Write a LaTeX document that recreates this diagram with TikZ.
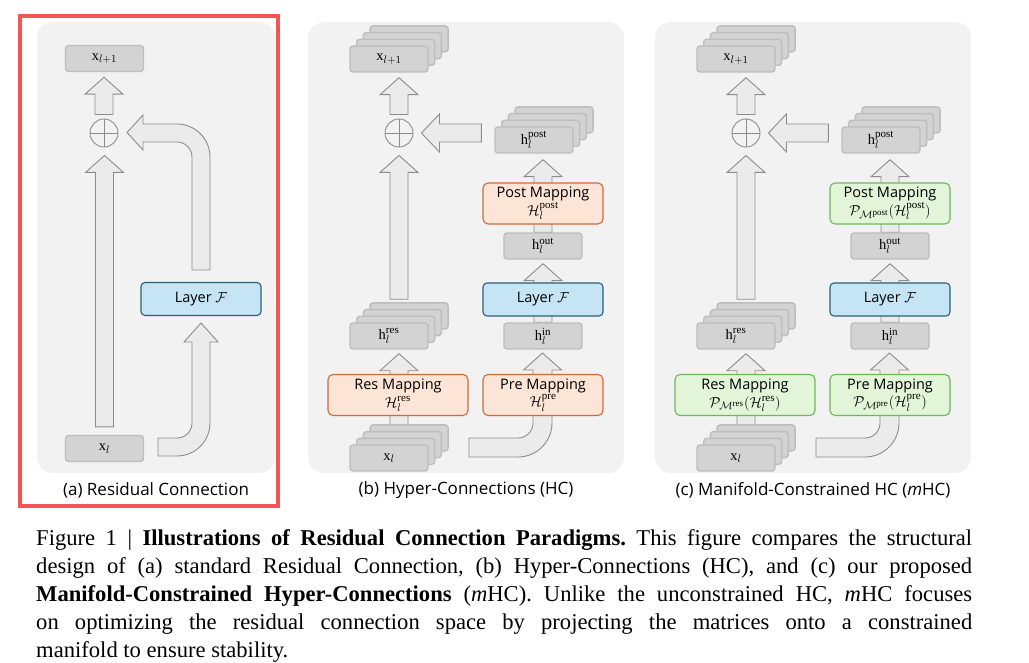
\documentclass[tikz,border=0pt]{standalone}
\usepackage{fontspec}
\setmainfont{Liberation Serif}
\newfontfamily\dsans{Open Sans}
\DeclareMathSizes{14.5}{14.5}{11}{9}
\usetikzlibrary{calc}
\definecolor{panelbg}{HTML}{F2F2F2}
\definecolor{arrfill}{HTML}{EBEBEB}
\definecolor{arrdraw}{HTML}{8C8C8C}
\definecolor{gfill}{HTML}{D3D3D3}
\definecolor{gdraw}{HTML}{BDBDBD}
\definecolor{lfill}{HTML}{C5E5F5}
\definecolor{ldraw}{HTML}{2C5F78}
\definecolor{ofill}{HTML}{FCE4D6}
\definecolor{odraw}{HTML}{D06A3A}
\definecolor{mfill}{HTML}{E2F5D8}
\definecolor{mdraw}{HTML}{6CB85A}
\definecolor{redframe}{HTML}{F55555}
\pgfdeclarelayer{bg}\pgfdeclarelayer{arr}
\pgfsetlayers{bg,arr,main}
\tikzset{
 fat/.style={fill=arrfill,draw=arrdraw,line width=0.9pt,line join=miter},
 gbox/.style={rectangle,rounded corners=3pt,fill=gfill,draw=gdraw,line width=1.4pt,minimum width=78pt,minimum height=26pt,inner sep=0pt,font=\fontsize{14.5}{16}\selectfont},
 lbox/.style={rectangle,rounded corners=4pt,fill=lfill,draw=ldraw,line width=1.1pt,minimum width=120pt,minimum height=33pt,inner sep=0pt,font=\dsans\fontsize{14.5}{16}\selectfont},
 obox/.style={rectangle,rounded corners=5pt,fill=ofill,draw=odraw,line width=1.1pt,minimum height=41pt,inner sep=0pt,align=center,font=\dsans\fontsize{14.5}{17.5}\selectfont},
 mbox/.style={obox,fill=mfill,draw=mdraw},
 plusc/.style={circle,draw=arrdraw,line width=0.9pt,minimum size=28pt,inner sep=0pt},
 panel/.style={fill=panelbg,rounded corners=16pt},
 lab/.style={font=\dsans\fontsize{17}{20}\selectfont}
}
\newcommand\fatv[2]{\path[fat] let \p1=#1, \p2=#2 in (\x1-9pt,\y1) -- (\x1-9pt,\y2-17pt) -- (\x1-19pt,\y2-17pt) -- (\x1,\y2) -- (\x1+19pt,\y2-17pt) -- (\x1+9pt,\y2-17pt) -- (\x1+9pt,\y1) -- cycle;}
\newcommand\fath[2]{\path[fat] let \p1=#1, \p2=#2 in (\x1,\y1-9pt) -- (\x2+18pt,\y1-9pt) -- (\x2+18pt,\y1-19pt) -- (\x2,\y1) -- (\x2+18pt,\y1+19pt) -- (\x2+18pt,\y1+9pt) -- (\x1,\y1+9pt) -- cycle;}
\newcommand\stk[4]{\foreach \i in {3,2,1}{\node[gbox] at ({#2+6.7*\i},{#3-6.7*\i}) {};}\node[gbox] (#1) at (#2,#3) {#4};}
\newcommand\plusnode[2]{\node[plusc] (#1) at #2 {};\draw[arrdraw,line width=0.9pt] (#1.north) -- (#1.south) (#1.west) -- (#1.east);}
\newcommand\hcpanel[5]{%
 \begin{pgfonlayer}{bg}\fill[panel] (308,22) rectangle (624,473);\end{pgfonlayer}
 \stk{#1xo}{389}{59}{$\mathrm{x}_{l+1}$}
 \plusnode{#1p}{(399,133)}
 \stk{#1hp}{534}{140}{$\mathrm{h}_l^{\mathrm{post}}$}
 \node[#2,minimum width=120pt] (#1post) at (543,203.5) {Post Mapping\\#3};
 \node[gbox] (#1hout) at (543,246) {$\mathrm{h}_l^{\mathrm{out}}$};
 \node[lbox] (#1layer) at (543,299.5) {Layer $\mathcal{F}$};
 \node[gbox] (#1hin) at (543,336) {$\mathrm{h}_l^{\mathrm{in}}$};
 \node[#2,minimum width=120pt] (#1pre) at (543,395) {Pre Mapping\\#5};
 \stk{#1hres}{389}{336}{$\mathrm{h}_l^{\mathrm{res}}$}
 \node[#2,minimum width=140pt] (#1res) at (398,395) {Res Mapping\\#4};
 \stk{#1xl}{389}{458}{$\mathrm{x}_l$}
 \begin{pgfonlayer}{arr}
 \fatv{($(#1hres.north -| #1p)+(0,-23)$)}{($(#1p.south)+(0,8)$)}
 \fatv{($(#1p.north)+(0,-4)$)}{($(#1xo.south -| #1p)+(0,5)$)}
 \fatv{($(#1xl.north -| #1p)$)}{($(#1hres.south -| #1p)+(0,4)$)}
 \fatv{(#1hin.north)}{($(#1hout.south)+(0,4)$)}
 \fatv{(#1hout.north)}{($(#1hp.south -| #1hout)+(0,6)$)}
 \fath{($(#1p.east -| #1hp.west)+(-13,0)$)}{($(#1p.east)+(8,0)$)}
 \draw[fat] (469,438) -- (518,438) arc(90:0:15) -- (533,370) -- (523.5,370) -- (542.5,353) -- (561.5,370) -- (552,370) -- (552,423) arc(0:90:34) -- (469,457) -- cycle;
 \end{pgfonlayer}
}
\begin{document}
\begin{tikzpicture}[x=1pt,y=-1pt]
\useasboundingbox (0,0) rectangle (1029,663);
\begin{pgfonlayer}{bg}\fill[white] (0,0) rectangle (1029,663);\end{pgfonlayer}
% ---------- panel (a)
\begin{pgfonlayer}{bg}\fill[panel] (37,22) rectangle (275,473);\end{pgfonlayer}
\node[gbox] (axo) at (104.5,58.5) {$\mathrm{x}_{l+1}$};
\plusnode{ap}{(104,133)}
\node[lbox] (alayer) at (201,299) {Layer $\mathcal{F}$};
\node[gbox] (axl) at (104.5,448.5) {$\mathrm{x}_l$};
\begin{pgfonlayer}{arr}
\fatv{($(axl.north)+(0,-8)$)}{($(ap.south)+(0,8)$)}
\fatv{($(ap.north)+(0,-4)$)}{($(axo.south)+(0,5)$)}
\draw[fat] (158,438) -- (177,438) arc(90:0:15) -- (192,342) -- (184,342) -- (201,323) -- (218,342) -- (210,342) -- (210,423) arc(0:90:33) -- (158,456) -- cycle;
\draw[fat] (192,270) -- (192,157) arc(0:-90:15) -- (143,142) -- (143,150) -- (127,132.5) -- (143,115) -- (143,124) -- (177,124) arc(-90:0:33) -- (210,270) -- cycle;
\end{pgfonlayer}
\draw[redframe,line width=4pt] (20,16) rectangle (278,506);
\node[lab] (la) at (156,490) {(a) Residual Connection};
% ---------- panel (b)
\hcpanel{b}{obox}{$\mathcal{H}_l^{\mathrm{post}}$}{$\mathcal{H}_l^{\mathrm{res}}$}{$\mathcal{H}_l^{\mathrm{pre}}$}
\node[lab] (lb) at (466,490) {(b) Hyper-Connections (HC)};
% ---------- panel (c)
\begin{scope}[xshift=347pt]
\hcpanel{c}{mbox}{$\mathcal{P}_{\mathcal{M}^{\mathrm{post}}}(\mathcal{H}_l^{\mathrm{post}})$}{$\mathcal{P}_{\mathcal{M}^{\mathrm{res}}}(\mathcal{H}_l^{\mathrm{res}})$}{$\mathcal{P}_{\mathcal{M}^{\mathrm{pre}}}(\mathcal{H}_l^{\mathrm{pre}})$}
\end{scope}
\node[lab] (lc) at (813,490) {(c) Manifold-Constrained HC (\textit{m}HC)};
% ---------- caption
\node[anchor=north west,text width=936pt,inner sep=0pt,align=justify,font=\frenchspacing\fontsize{22.6}{28}\selectfont] (cap) at (36,529)
{Figure 1 | \textbf{Illustrations of Residual Connection Paradigms.} This figure compares the structural\linebreak
design of (a) standard Residual Connection, (b) Hyper-Connections (HC), and (c) our proposed\linebreak
\textbf{Manifold-Constrained Hyper-Connections} (\textit{m}HC). Unlike the unconstrained HC, \textit{m}HC focuses\linebreak
on optimizing the residual connection space by projecting the matrices onto a constrained\linebreak
manifold to ensure stability.};
\end{tikzpicture}
\end{document}
